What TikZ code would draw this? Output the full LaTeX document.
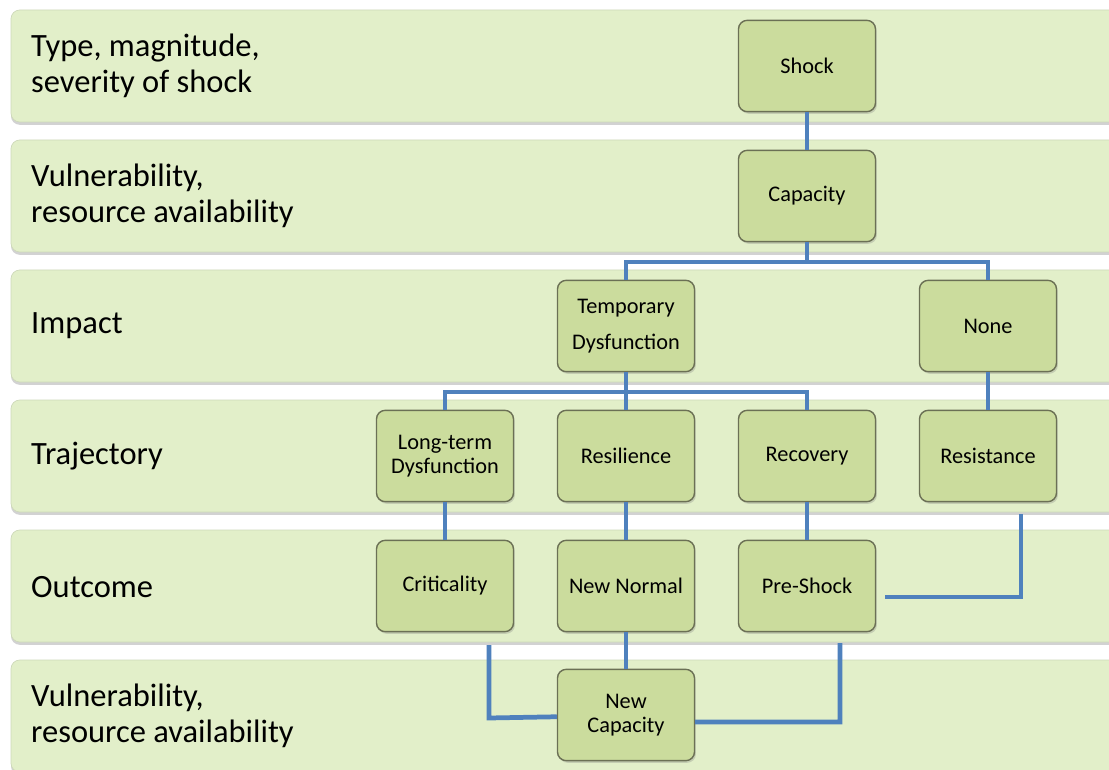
\documentclass[tikz,border=0pt]{standalone}
\usepackage{fontspec}
\setmainfont{Carlito}
\usetikzlibrary{shadows}
\definecolor{bande}{HTML}{E2EFC9}
\definecolor{boite}{HTML}{CBDC9D}
\definecolor{bord}{HTML}{6B7055}
\definecolor{lien}{HTML}{4F81BD}
\begin{document}
\begin{tikzpicture}[x=0.02cm,y=-0.02cm,
  rangee/.style={fill=bande,draw=bande!80!gray,line width=0.4pt,rounded corners=5pt,
    drop shadow={shadow xshift=0pt,shadow yshift=-1.6pt,opacity=0.35}},
  titre/.style={anchor=west,align=left,font=\fontsize{18.5}{20.5}\selectfont},
  etape/.style={fill=boite,draw=bord,line width=0.8pt,rounded corners=5pt,
    minimum width=78pt,minimum height=52pt,align=center,
    font=\fontsize{12.7}{13.6}\selectfont,
    drop shadow={shadow xshift=0.8pt,shadow yshift=-1.2pt,opacity=0.3}},
  trait/.style={draw=lien,line width=2.7pt}]
\clip (0,0) rectangle (1109,770);
\fill[white] (0,0) rectangle (1109,770);
% Les six bandes horizontales
\foreach \y in {10,140,270,400,530,660}
  \draw[rangee] (11,\y) rectangle (1125,\y+112);
% Les titres a gauche
\node[titre] (t1) at (25,66) {Type, magnitude,\\severity of shock};
\node[titre] (t2) at (25,196) {Vulnerability,\\resource availability};
\node[titre] (t3) at (25,326) {Impact};
\node[titre] (t4) at (25,456) {Trajectory};
\node[titre] (t5) at (25,587) {Outcome};
\node[titre] (t6) at (25,716) {Vulnerability,\\resource availability};
% Les liens (sous les boites)
\coordinate (b1) at (807,262);
\coordinate (b2) at (626,392);
\coordinate (r1) at (1021,514);
\coordinate (r2) at (1021,597);
\coordinate (r3) at (885,597);
\coordinate (c1) at (489,645);
\coordinate (c2) at (489,718);
\coordinate (p1) at (840,643);
\coordinate (p2) at (840,722);
% Les boites
\node[etape] (shock) at (807,66) {Shock};
\node[etape] (capa) at (807,196) {Capacity};
\node[etape] (tempo) at (626,326) {Temporary\\[7pt]Dysfunction};
\node[etape] (none) at (988,326) {None};
\node[etape] (longterm) at (445,456) {Long-term\\Dysfunction};
\node[etape] (resil) at (626,456) {Resilience};
\node[etape] (recov) at (807,456) {Recovery};
\node[etape] (resist) at (988,456) {Resistance};
\node[etape] (crit) at (445,586) {Criticality};
\node[etape] (newnorm) at (626,586) {New Normal};
\node[etape] (preshock) at (807,586) {Pre-Shock};
\node[etape] (newcapa) at (626,715) {New\\Capacity};
% Les traits bleus
\draw[trait] (shock) -- (capa);
\draw[trait] (capa.south) -- (b1);
\draw[trait] (tempo.north) |- (b1) -| (none.north);
\draw[trait] (tempo.south) -- (b2);
\draw[trait] (longterm.north) |- (b2) -| (recov.north);
\draw[trait] (b2) -- (resil.north);
\draw[trait] (none) -- (resist);
\draw[trait] (longterm) -- (crit);
\draw[trait] (resil) -- (newnorm);
\draw[trait] (recov) -- (preshock);
\draw[trait] (newnorm) -- (newcapa);
\draw[trait] (r1) -- (r2) -- (r3);
\draw[trait] (c1) -- (c2) -- ([yshift=-1pt]newcapa.west);
\draw[trait] (p1) -- (p2) -- ([yshift=-4pt]newcapa.east);
\end{tikzpicture}
\end{document}
